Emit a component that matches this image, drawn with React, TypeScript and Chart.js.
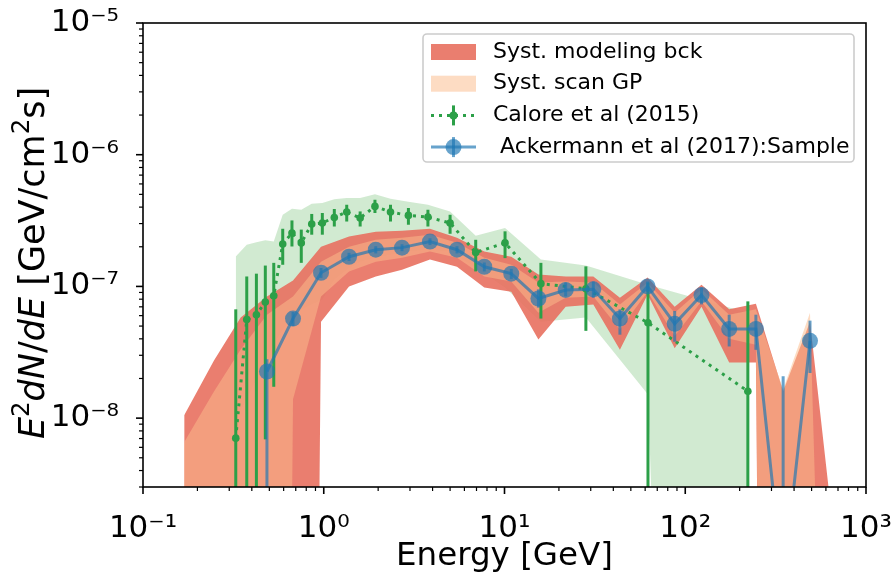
import React, { useEffect, useRef } from 'react';
import { Chart, registerables } from 'chart.js';

Chart.register(...registerables);

// A flux far below the visible axis: the band / error bar runs off the bottom of the plot.
const ZERO = 1e-30;

// ---- systematic bands (shared energy grid) ----
const bandEnergy = [0.169, 0.247, 0.347, 0.485, 0.676, 0.966, 1.38, 1.94, 2.71, 3.87, 5.46, 7.73, 10.9, 15.4, 21.8, 31.0, 43.5, 61.9, 87.4, 123, 175, 246, 348, 490, 692];
const bckUpper = [1.05e-8, 2.74e-8, 5.8e-8, 8.4e-8, 1.11e-7, 2.0e-7, 2.39e-7, 2.6e-7, 2.65e-7, 2.74e-7, 2.34e-7, 1.84e-7, 1.68e-7, 1.23e-7, 1.19e-7, 1.19e-7, 8.2e-8, 1.17e-7, 7.0e-8, 1.03e-7, 6.7e-8, 7.4e-8, 1.6e-8, 5.4e-8, 7.8e-10];
const bckLower = [ZERO, ZERO, ZERO, ZERO, ZERO, 5.4e-8, 1.0e-7, 1.19e-7, 1.34e-7, 1.6e-7, 1.41e-7, 9.8e-8, 9.1e-8, 3.95e-8, 7.0e-8, 7.3e-8, 3.3e-8, 8.7e-8, 3.4e-8, 7.0e-8, 2.65e-8, 2.65e-8, ZERO, ZERO, ZERO];
const gpUpper = [6.55e-9, 1.59e-8, 3.32e-8, 6.1e-8, 8.4e-8, 1.54e-7, 2.0e-7, 2.26e-7, 2.34e-7, 2.47e-7, 2.15e-7, 1.65e-7, 1.46e-7, 1.07e-7, 1.09e-7, 1.07e-7, 7.3e-8, 1.07e-7, 6.3e-8, 9.5e-8, 6.1e-8, 6.7e-8, 1.65e-8, 6.3e-8, 5e-15];
const gpLower = [ZERO, ZERO, ZERO, ZERO, 1.39e-8, 8.4e-8, 1.3e-7, 1.54e-7, 1.65e-7, 1.84e-7, 1.65e-7, 1.19e-7, 1.09e-7, 6.3e-8, 8.2e-8, 8.4e-8, 4.7e-8, 9.1e-8, 4.2e-8, 7.7e-8, 4.0e-8, 3.6e-8, ZERO, ZERO, ZERO];

// ---- Calore et al (2015) ----
const caloreEnergy = [0.326, 0.375, 0.424, 0.475, 0.529, 0.593, 0.667, 0.751, 0.858, 0.982, 1.144, 1.34, 1.59, 1.92, 2.34, 2.94, 3.77, 5.0, 6.93, 10.07, 15.9, 28.2, 62.2, 222];
const caloreFlux = [7.05e-9, 5.6e-8, 6.1e-8, 7.6e-8, 8.5e-8, 2.1e-7, 2.54e-7, 2.14e-7, 2.98e-7, 3.03e-7, 3.34e-7, 3.67e-7, 3.31e-7, 4.05e-7, 3.67e-7, 3.46e-7, 3.36e-7, 3.03e-7, 1.81e-7, 2.14e-7, 1.05e-7, 9.6e-8, 5.3e-8, 1.6e-8];
const caloreHigh = [6.7e-8, 1.19e-7, 1.25e-7, 1.44e-7, 1.51e-7, 2.74e-7, 3.17e-7, 2.7e-7, 3.55e-7, 3.61e-7, 3.87e-7, 4.17e-7, 3.71e-7, 4.55e-7, 4.17e-7, 3.94e-7, 3.82e-7, 3.5e-7, 2.26e-7, 2.62e-7, 1.51e-7, 1.42e-7, 1.07e-7, 7.7e-8];
const caloreLow = [ZERO, ZERO, ZERO, 6.9e-9, 1.73e-8, 1.46e-7, 2.01e-7, 1.51e-7, 2.47e-7, 2.47e-7, 2.85e-7, 3.11e-7, 2.85e-7, 3.61e-7, 3.11e-7, 2.94e-7, 2.85e-7, 2.51e-7, 1.3e-7, 1.64e-7, 5.7e-8, 4.6e-8, ZERO, ZERO];
const caloreBandUpper = [1.69e-7, 2.07e-7, 2.16e-7, 2.24e-7, 2.19e-7, 3.5e-7, 3.89e-7, 3.82e-7, 4.24e-7, 4.3e-7, 4.59e-7, 4.69e-7, 4.69e-7, 5.01e-7, 4.63e-7, 4.4e-7, 4.17e-7, 3.71e-7, 2.43e-7, 2.78e-7, 1.6e-7, 1.44e-7, 1.03e-7, 6.3e-8];
const caloreBandLower = [9.8e-9, 1.39e-8, 1.97e-8, 2.79e-8, 3.62e-8, 4.7e-8, 5.6e-8, 6.67e-8, 7.28e-8, 7.94e-8, 1.13e-7, 1.34e-7, 1.54e-7, 1.65e-7, 1.74e-7, 1.84e-7, 1.9e-7, 1.84e-7, 1.39e-7, 9.8e-8, 5.4e-8, 5.8e-8, 1.51e-8, ZERO];

// ---- Ackermann et al (2017): Sample ----
const ackEnergy = [0.485, 0.676, 0.966, 1.38, 1.94, 2.71, 3.87, 5.46, 7.73, 10.9, 15.4, 21.8, 31.0, 43.5, 61.9, 87.4, 123, 175, 246, 348, 490];
const ackFlux = [2.26e-8, 5.7e-8, 1.27e-7, 1.68e-7, 1.9e-7, 1.97e-7, 2.19e-7, 1.9e-7, 1.41e-7, 1.25e-7, 8.1e-8, 9.4e-8, 9.5e-8, 5.7e-8, 1.0e-7, 5.2e-8, 8.6e-8, 4.76e-8, 4.76e-8, 5.5e-10, 3.86e-8];
const ackHigh = [2.8e-8, 6.4e-8, 1.38e-7, 1.8e-7, 2.02e-7, 2.09e-7, 2.32e-7, 2.02e-7, 1.52e-7, 1.36e-7, 9.5e-8, 1.07e-7, 1.09e-7, 6.7e-8, 1.09e-7, 6.5e-8, 9.8e-8, 6.1e-8, 6.1e-8, 2.08e-8, 5.5e-8];
const ackLow = [ZERO, 5.0e-8, 1.16e-7, 1.56e-7, 1.78e-7, 1.85e-7, 2.06e-7, 1.78e-7, 1.3e-7, 1.14e-7, 6.9e-8, 8.4e-8, 8.2e-8, 4.3e-8, 9.1e-8, 3.8e-8, 7.3e-8, 3.5e-8, 3.3e-8, ZERO, 2.2e-8];

// ---- axes ----
const xMin = 0.1;
const xMax = 1000;
const yMin = 3e-9;
const yMax = 1e-5;
const xTickValues = [0.1, 1, 10, 100, 1000];
const xTickLabels = ['10⁻¹', '10⁰', '10¹', '10²', '10³'];
const yTickValues = [1e-8, 1e-7, 1e-6, 1e-5];
const yTickLabels = ['10⁻⁸', '10⁻⁷', '10⁻⁶', '10⁻⁵'];
const xTitle = 'Energy [GeV]';
const yTitleParts = [
  { text: 'E', italic: true },
  { text: '2', sup: true },
  { text: 'dN', italic: true },
  { text: '/' },
  { text: 'dE', italic: true },
  { text: ' [GeV/cm' },
  { text: '2', sup: true },
  { text: 's]' },
];
const legendLabels = ['Syst. modeling bck', 'Syst. scan GP', 'Calore et al (2015)', ' Ackermann et al (2017):Sample'];

const FONT = "'DejaVu Sans', 'Liberation Sans', sans-serif";
const RED = 'rgba(232,112,95,0.9)';
const PEACH = 'rgba(251,188,140,0.52)';
const GREEN = 'rgb(44,160,72)';
const GREEN_BAND = 'rgba(44,160,44,0.22)';
const BLUE = 'rgba(31,119,180,0.68)';

function logTicks(min: number, max: number) {
  const out: number[] = [];
  for (let e = Math.floor(Math.log10(min)); e <= Math.ceil(Math.log10(max)); e++) {
    for (let m = 1; m <= 9; m++) {
      const v = m * Math.pow(10, e);
      if (v >= min * (1 - 1e-9) && v <= max * (1 + 1e-9)) out.push(v);
    }
  }
  return out;
}
function majorIndex(v: number, values: number[]) {
  return values.findIndex((t) => Math.abs(Math.log10(t) - Math.log10(v)) < 1e-6);
}
const pts = (xs: number[], ys: number[]) => xs.map((x, i) => ({ x, y: ys[i] }));

const errorBarPlugin = {
  id: 'errorBars',
  beforeDatasetDraw(chart: any, args: any) {
    const ds = chart.data.datasets[args.index];
    if (!ds.errLow) return;
    const { ctx, chartArea: a, scales } = chart;
    ctx.save();
    ctx.beginPath();
    ctx.rect(a.left, a.top, a.right - a.left, a.bottom - a.top);
    ctx.clip();
    ctx.strokeStyle = ds.errColor;
    ctx.lineWidth = ds.errWidth;
    ds.data.forEach((p: any, i: number) => {
      const px = scales.x.getPixelForValue(p.x);
      const y1 = Math.max(scales.y.getPixelForValue(ds.errHigh[i]), a.top - 10);
      const y2 = Math.min(scales.y.getPixelForValue(ds.errLow[i]), a.bottom + 10);
      ctx.beginPath();
      ctx.moveTo(px, y1);
      ctx.lineTo(px, y2);
      ctx.stroke();
    });
    ctx.restore();
  },
};

const framePlugin = {
  id: 'frameTicks',
  afterDraw(chart: any) {
    const { ctx, chartArea: a, scales } = chart;
    ctx.save();
    ctx.strokeStyle = '#000';
    scales.y.ticks.forEach((t: any) => {
      const major = majorIndex(t.value, yTickValues) >= 0;
      const p = scales.y.getPixelForValue(t.value);
      ctx.lineWidth = major ? 1.6 : 1.2;
      ctx.beginPath();
      ctx.moveTo(a.left, p);
      ctx.lineTo(a.left - (major ? 7 : 4), p);
      ctx.stroke();
    });
    scales.x.ticks.forEach((t: any) => {
      const major = majorIndex(t.value, xTickValues) >= 0;
      const p = scales.x.getPixelForValue(t.value);
      ctx.lineWidth = major ? 1.6 : 1.2;
      ctx.beginPath();
      ctx.moveTo(p, a.bottom);
      ctx.lineTo(p, a.bottom + (major ? 7 : 4));
      ctx.stroke();
    });
    ctx.lineWidth = 1.6;
    ctx.strokeRect(a.left, a.top, a.right - a.left, a.bottom - a.top);
    ctx.restore();
  },
};

const titlesPlugin = {
  id: 'axisTitles',
  afterDraw(chart: any) {
    const { ctx, chartArea: a } = chart;
    ctx.save();
    ctx.fillStyle = '#000';
    ctx.font = `32.5px ${FONT}`;
    ctx.textAlign = 'center';
    ctx.textBaseline = 'alphabetic';
    ctx.fillText(xTitle, (a.left + a.right) / 2, a.bottom + 78);

    const size = 35;
    const fontOf = (p: any) => (p.sup ? `${size * 0.7}px ${FONT}` : `${p.italic ? 'italic ' : ''}${size}px ${FONT}`);
    let total = 0;
    yTitleParts.forEach((p) => {
      ctx.font = fontOf(p);
      total += ctx.measureText(p.text).width;
    });
    ctx.translate(44, (a.top + a.bottom) / 2 + 8);
    ctx.rotate(-Math.PI / 2);
    ctx.textAlign = 'left';
    let cx = -total / 2;
    yTitleParts.forEach((p: any) => {
      ctx.font = fontOf(p);
      ctx.fillText(p.text, cx, p.sup ? -size * 0.42 : 0);
      cx += ctx.measureText(p.text).width;
    });
    ctx.restore();
  },
};

const legendPlugin = {
  id: 'mplLegend',
  afterDraw(chart: any) {
    const { ctx, chartArea: a } = chart;
    const w = 431;
    const h = 128;
    const x = a.right - 12 - w;
    const y = a.top + 11;
    const r = 4;
    ctx.save();
    ctx.beginPath();
    ctx.moveTo(x + r, y);
    ctx.arcTo(x + w, y, x + w, y + h, r);
    ctx.arcTo(x + w, y + h, x, y + h, r);
    ctx.arcTo(x, y + h, x, y, r);
    ctx.arcTo(x, y, x + w, y, r);
    ctx.closePath();
    ctx.fillStyle = 'rgba(255,255,255,0.8)';
    ctx.fill();
    ctx.lineWidth = 1.6;
    ctx.strokeStyle = '#cccccc';
    ctx.stroke();

    const hx0 = x + 8;
    const hx1 = x + 53;
    const hm = (hx0 + hx1) / 2;
    const rowY = (i: number) => y + 18 + i * 31.7;

    ctx.fillStyle = RED;
    ctx.fillRect(hx0, rowY(0) - 8, hx1 - hx0, 16);
    ctx.fillStyle = PEACH;
    ctx.fillRect(hx0, rowY(1) - 8, hx1 - hx0, 16);

    // Calore handle
    let cy = rowY(2);
    ctx.strokeStyle = GREEN;
    ctx.lineWidth = 3;
    ctx.setLineDash([3, 5]);
    ctx.beginPath();
    ctx.moveTo(hx0, cy);
    ctx.lineTo(hx1, cy);
    ctx.stroke();
    ctx.setLineDash([]);
    ctx.beginPath();
    ctx.moveTo(hm, cy - 10);
    ctx.lineTo(hm, cy + 10);
    ctx.stroke();
    ctx.fillStyle = GREEN;
    ctx.beginPath();
    ctx.arc(hm, cy, 4, 0, Math.PI * 2);
    ctx.fill();

    // Ackermann handle
    cy = rowY(3);
    ctx.strokeStyle = BLUE;
    ctx.beginPath();
    ctx.moveTo(hx0, cy);
    ctx.lineTo(hx1, cy);
    ctx.stroke();
    ctx.beginPath();
    ctx.moveTo(hm, cy - 10);
    ctx.lineTo(hm, cy + 10);
    ctx.stroke();
    ctx.fillStyle = BLUE;
    ctx.beginPath();
    ctx.arc(hm, cy, 8, 0, Math.PI * 2);
    ctx.fill();

    ctx.font = `22px ${FONT}`;
    ctx.fillStyle = '#000';
    ctx.textAlign = 'left';
    ctx.textBaseline = 'middle';
    legendLabels.forEach((t, i) => ctx.fillText(t, x + 70, rowY(i)));
    ctx.restore();
  },
};

const bandStyle = { borderWidth: 0, borderColor: 'transparent', pointRadius: 0, pointHoverRadius: 0, tension: 0 };

export default function App() {
  const ref = useRef<HTMLCanvasElement>(null);
  useEffect(() => {
    Chart.defaults.font.family = FONT;
    const chart = new Chart(ref.current as HTMLCanvasElement, {
      type: 'line',
      data: {
        datasets: [
          {
            label: legendLabels[3],
            data: pts(ackEnergy, ackFlux),
            borderColor: BLUE,
            backgroundColor: BLUE,
            borderWidth: 3,
            pointRadius: 8,
            pointBorderWidth: 0,
            pointBackgroundColor: BLUE,
            fill: false,
            tension: 0,
            order: 1,
            errLow: ackLow,
            errHigh: ackHigh,
            errColor: BLUE,
            errWidth: 3,
          } as any,
          {
            label: legendLabels[2],
            data: pts(caloreEnergy, caloreFlux),
            borderColor: GREEN,
            backgroundColor: GREEN,
            borderWidth: 3,
            borderDash: [3, 5],
            pointRadius: 3.8,
            pointBorderWidth: 0,
            pointBackgroundColor: GREEN,
            fill: false,
            tension: 0,
            order: 2,
            errLow: caloreLow,
            errHigh: caloreHigh,
            errColor: GREEN,
            errWidth: 3,
          } as any,
          { label: legendLabels[1], data: pts(bandEnergy, gpUpper), fill: '+1', backgroundColor: PEACH, order: 3, ...bandStyle },
          { label: 'scan GP lower', data: pts(bandEnergy, gpLower), fill: false, order: 3, ...bandStyle },
          { label: legendLabels[0], data: pts(bandEnergy, bckUpper), fill: '+1', backgroundColor: RED, order: 4, ...bandStyle },
          { label: 'modeling bck lower', data: pts(bandEnergy, bckLower), fill: false, order: 4, ...bandStyle },
          { label: 'Calore syst. upper', data: pts(caloreEnergy, caloreBandUpper), fill: '+1', backgroundColor: GREEN_BAND, order: 5, ...bandStyle },
          { label: 'Calore syst. lower', data: pts(caloreEnergy, caloreBandLower), fill: false, order: 5, ...bandStyle },
        ],
      },
      options: {
        animation: false,
        responsive: false,
        devicePixelRatio: 1,
        events: [],
        layout: { padding: { left: 0, right: 26, top: 23, bottom: 0 } },
        plugins: { legend: { display: false }, tooltip: { enabled: false } },
        scales: {
          x: {
            type: 'logarithmic',
            min: xMin,
            max: xMax,
            grid: { display: false },
            border: { display: false },
            afterBuildTicks: (scale: any) => {
              scale.ticks = logTicks(xMin, xMax).map((v) => ({ value: v }));
            },
            afterFit: (scale: any) => {
              scale.height = 86;
              scale.paddingLeft = 0;
              scale.paddingRight = 0;
            },
            ticks: {
              autoSkip: false,
              maxRotation: 0,
              minRotation: 0,
              padding: 15,
              color: '#000',
              font: { size: 31, family: FONT },
              callback: (v: any) => {
                const i = majorIndex(Number(v), xTickValues);
                return i >= 0 ? xTickLabels[i] : '';
              },
            },
          },
          y: {
            type: 'logarithmic',
            min: yMin,
            max: yMax,
            grid: { display: false },
            border: { display: false },
            afterBuildTicks: (scale: any) => {
              scale.ticks = logTicks(yMin, yMax).map((v) => ({ value: v }));
            },
            afterFit: (scale: any) => {
              scale.width = 143;
              scale.paddingTop = 0;
              scale.paddingBottom = 0;
            },
            ticks: {
              autoSkip: false,
              padding: 16,
              color: '#000',
              font: { size: 31, family: FONT },
              callback: (v: any) => {
                const i = majorIndex(Number(v), yTickValues);
                return i >= 0 ? yTickLabels[i] : '';
              },
            },
          },
        },
      } as any,
      plugins: [errorBarPlugin, framePlugin, titlesPlugin, legendPlugin],
    });
    return () => chart.destroy();
  }, []);
  return (
    <canvas
      ref={ref}
      width={892}
      height={573}
      style={{ position: 'absolute', left: 0, top: 0, width: 892, height: 573, display: 'block' }}
    />
  );
}
